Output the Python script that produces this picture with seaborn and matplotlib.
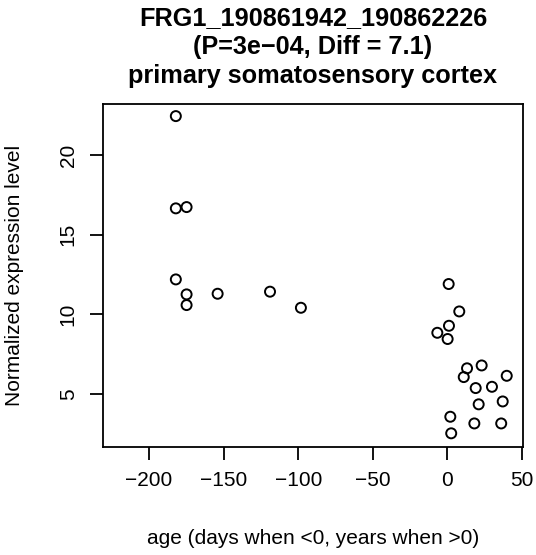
import matplotlib
matplotlib.use("Agg")
import matplotlib.pyplot as plt
import seaborn as sns
import pandas as pd

age = [-182, -182, -174.8, -182, -174.8, -174.8, -154, -118.9, -98.2,
       0.8, 7.9, 1.0, -6.8, 0.1, 13.1, 22.9, 10.9, 39.7, 18.9, 29.8,
       20.9, 37.0, 1.9, 18.0, 36.0, 2.5]
expr = [22.45, 16.66, 16.74, 12.2, 11.26, 10.59, 11.3, 11.43, 10.42,
        11.91, 10.19, 9.29, 8.85, 8.46, 6.62, 6.80, 6.07, 6.15, 5.38, 5.46,
        4.36, 4.54, 3.58, 3.16, 3.16, 2.54]
x_ticks = [-200, -150, -100, -50, 0, 50]
y_ticks = [5, 10, 15, 20]
title = "FRG1_190861942_190862226\n(P=3e\u221204, Diff = 7.1)\nprimary somatosensory cortex"
xlabel = "age (days when <0, years when >0)"
ylabel = "Normalized expression level"

sns.set_style("white")
plt.rcParams["font.family"] = ["Liberation Sans", "DejaVu Sans"]
plt.rcParams["text.color"] = "black"

df = pd.DataFrame({"age": age, "expr": expr})

fig = plt.figure(figsize=(5.36, 5.55), dpi=100)
ax = fig.add_axes([103/536, 1-446.7/555, (523-103)/536, (446.7-104)/555])
sns.scatterplot(data=df, x="age", y="expr", ax=ax, marker="o", s=52,
                facecolors="none", edgecolor="black", linewidth=1.4)
ax.set_xlim(-230.8, 50.6)
ax.set_ylim(1.70, 23.21)
ax.set_xticks(x_ticks)
ax.set_yticks(y_ticks)
ax.set_xticklabels([f"{t}".replace("-", "\u2212") for t in x_ticks])
ax.set_yticklabels([str(t) for t in y_ticks], rotation=90, va="center")
for s in ax.spines.values():
    s.set_linewidth(1.3)
    s.set_color("black")
ax.tick_params(axis="both", direction="out", length=9.2, width=1.3,
               color="black", labelsize=15, labelcolor="black",
               bottom=True, left=True)
ax.tick_params(axis="x", pad=8)
ax.tick_params(axis="y", pad=9)
ax.set_xlabel("")
ax.set_ylabel("")
fig.text(313/536, 1-538/555, xlabel, ha="center", va="center", fontsize=15,
         color="black")
fig.text(15/536, 1-275/555, ylabel, ha="center", va="center", fontsize=15,
         rotation=90, color="black")
fig.text(313/536, 1-47/555, title, ha="center", va="center", fontsize=18.2,
         fontweight="bold", linespacing=1.26, color="black")
fig.savefig("out.png", dpi=100)
